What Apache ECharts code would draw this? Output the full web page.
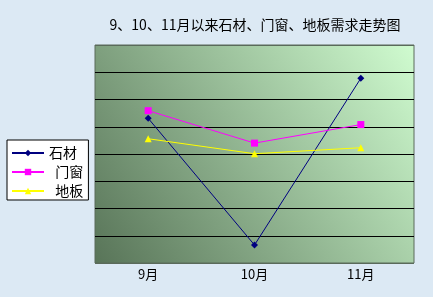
<!DOCTYPE html>
<html><head><meta charset="utf-8">
<script src="https://cdn.jsdelivr.net/npm/echarts@6/dist/echarts.min.js"></script>
<style>html,body{margin:0;padding:0;background:#dce9f4;}#c{width:433px;height:297px;}</style>
</head><body><div id="c"></div>
<script>
const titleText = '9、10、11月以来石材、门窗、地板需求走势图';
const categories = ['9月', '10月', '11月'];
const stone = [5.31, 0.66, 6.78];
const windows = [5.59, 4.40, 5.08];
const floors = [4.56, 4.01, 4.23];
const seriesNames = ['石材', '门窗', '地板'];

const chart = echarts.init(document.getElementById('c'), null, {renderer: 'canvas'});
const font = '"Noto Sans CJK SC", sans-serif';
chart.setOption({
  backgroundColor: '#dce9f4',
  animation: false,
  title: {
    text: titleText, left: 250, top: 13, textAlign: 'center',
    textStyle: {fontSize: 14, fontWeight: 'normal', color: '#000', fontFamily: font}
  },
  grid: {
    left: 95, right: 19, top: 45, bottom: 34, show: true,
    borderColor: '#5a6a5a', borderWidth: 1,
    backgroundColor: new echarts.graphic.LinearGradient(0, 1, 1, 0, [
      {offset: 0, color: '#587458'}, {offset: 1, color: '#d0fcd0'}
    ])
  },
  legend: {
    orient: 'vertical', left: 7, top: 140, padding: [6, 2, 2, 4],
    borderColor: '#000', borderWidth: 1, backgroundColor: '#fff',
    itemGap: 5, itemWidth: 32, itemHeight: 8,
    textStyle: {fontSize: 14, color: '#000', fontFamily: font},
    data: [
      {name: seriesNames[0]},
      {name: seriesNames[1]},
      {name: seriesNames[2]}
    ],
    formatter: function (n) { return n === '石材' ? n + '   ' : '  ' + n; }
  },
  xAxis: {
    type: 'category', data: categories, boundaryGap: true,
    axisLine: {show: false}, axisTick: {show: false},
    axisLabel: {fontSize: 13, color: '#000', fontFamily: font, margin: 5}
  },
  yAxis: {
    type: 'value', min: 0, max: 8, interval: 1,
    axisLine: {show: false}, axisTick: {show: false}, axisLabel: {show: false},
    splitLine: {lineStyle: {color: ['#5a6a5a', '#000', '#000', '#000', '#000', '#000', '#000', '#000', '#5a6a5a'], width: 1}}
  },
  series: [
    {name: seriesNames[0], type: 'line', data: stone, symbol: 'diamond', symbolSize: 7,
     itemStyle: {color: '#000080'}, lineStyle: {color: '#000080', width: 1}},
    {name: seriesNames[1], type: 'line', data: windows, symbol: 'rect', symbolSize: 7,
     itemStyle: {color: '#ff00ff'}, lineStyle: {color: '#ff00ff', width: 1}},
    {name: seriesNames[2], type: 'line', data: floors, symbol: 'triangle', symbolSize: 7,
     itemStyle: {color: '#ffff00'}, lineStyle: {color: '#ffff00', width: 1}}
  ]
});
</script></body></html>
